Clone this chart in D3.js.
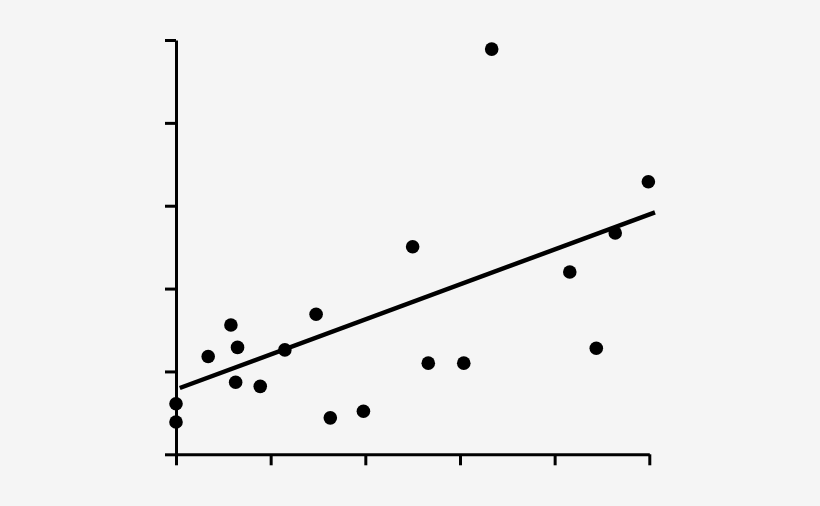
<!DOCTYPE html>
<html><head><meta charset="utf-8">
<script src="https://cdn.jsdelivr.net/npm/d3@7"></script>
<style>html,body{margin:0;padding:0;background:#f5f5f5;}svg{display:block;}</style>
</head><body>
<svg id="c" width="820" height="506"></svg>
<script>
const xTicks = [0, 1, 2, 3, 4, 5];
const yTicks = [0, 1, 2, 3, 4, 5];
const xValues = [0, 0, 0.34, 0.58, 0.65, 0.63, 0.89, 1.15, 1.48, 1.63, 1.98, 2.50, 2.665, 3.04, 3.335, 4.16, 4.44, 4.64, 4.99];
const yValues = [0.61, 0.39, 1.18, 1.56, 1.29, 0.87, 0.82, 1.26, 1.69, 0.44, 0.52, 2.505, 1.10, 1.10, 4.89, 2.20, 1.28, 2.67, 3.29];
const fitX = [0.04, 5.06];
const fitY = [0.80, 2.92];

const svg = d3.select("#c");
const x = d3.scaleLinear().domain([0, 5]).range([176, 649.3]);
const y = d3.scaleLinear().domain([0, 5]).range([454.3, 40]);

const xa = svg.append("g").attr("transform", "translate(0,454.3)")
  .call(d3.axisBottom(x).tickValues(xTicks).tickSize(11).tickSizeOuter(0).tickFormat(""));
const ya = svg.append("g").attr("transform", "translate(176,0)")
  .call(d3.axisLeft(y).tickValues(yTicks).tickSize(11).tickSizeOuter(0).tickFormat(""));
[xa, ya].forEach(g => {
  g.selectAll("path,line").attr("stroke", "#000").attr("stroke-width", 3);
});

svg.append("path")
  .datum(fitX.map((v, i) => [v, fitY[i]]))
  .attr("d", d3.line().x(d => x(d[0])).y(d => y(d[1])))
  .attr("stroke", "#000").attr("stroke-width", 4.5).attr("fill", "none");

svg.append("g").selectAll("circle")
  .data(xValues.map((v, i) => [v, yValues[i]]))
  .join("circle")
  .attr("cx", d => x(d[0])).attr("cy", d => y(d[1]))
  .attr("r", 6.8).attr("fill", "#000");
</script>
</body></html>
